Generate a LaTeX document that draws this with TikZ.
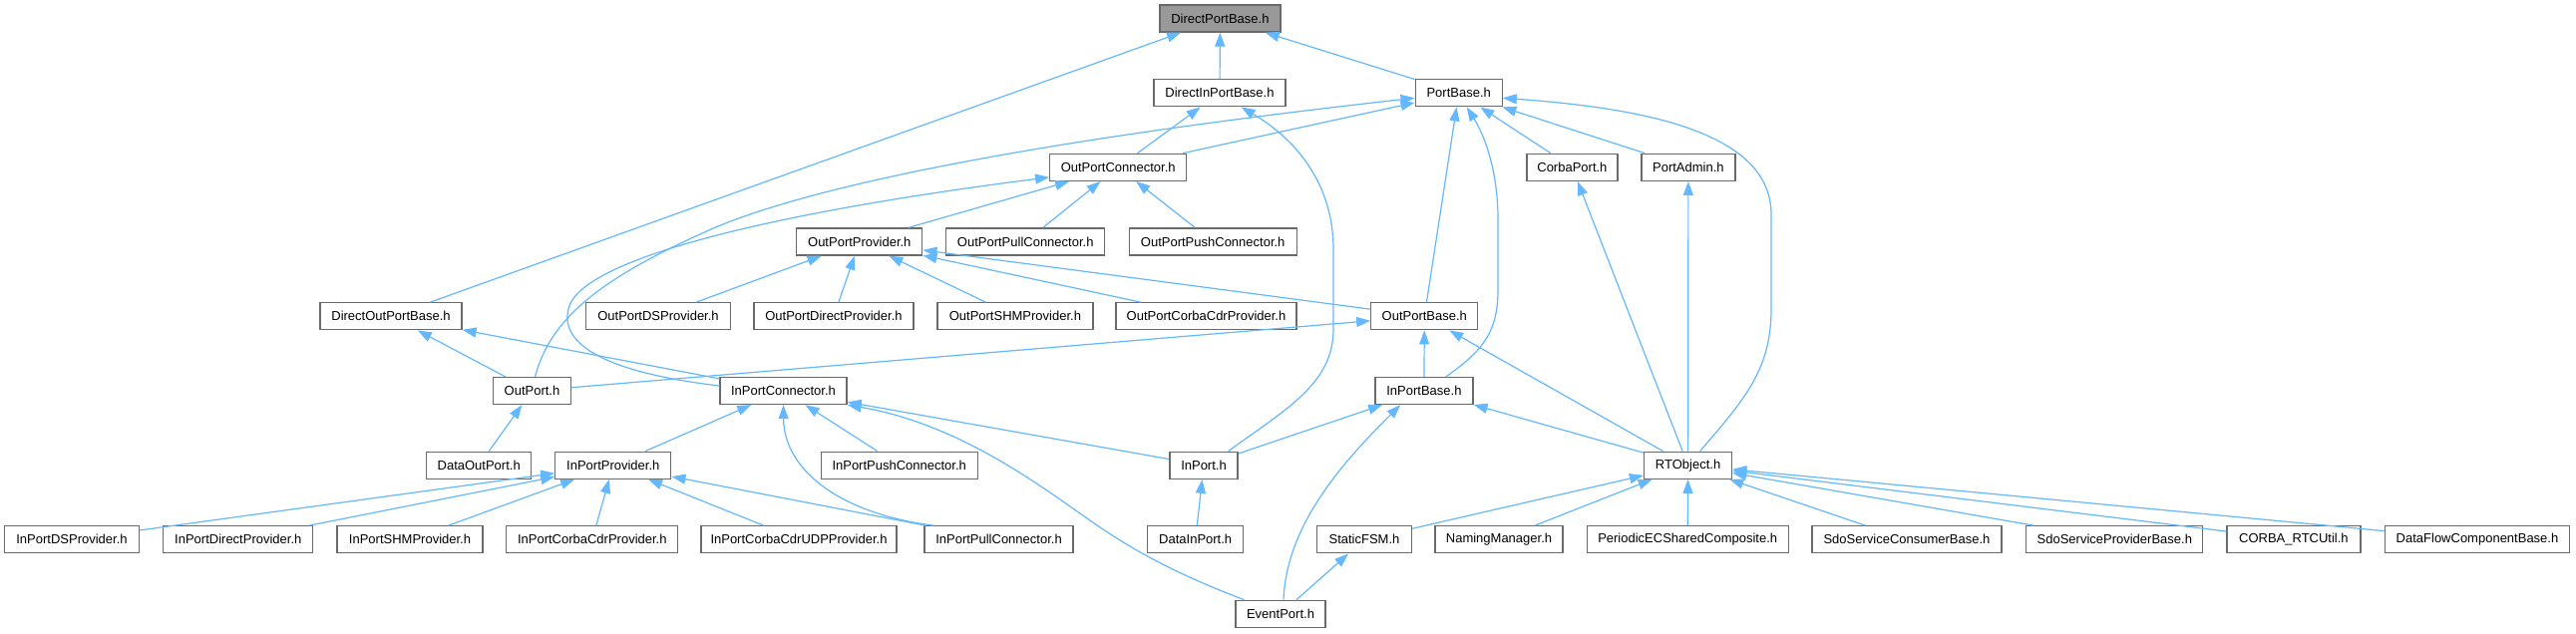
\documentclass[tikz,border=0pt]{standalone}
\usepackage{fontspec}
\setmainfont{Liberation Sans}
\usetikzlibrary{arrows.meta,calc}
\definecolor{edgec}{HTML}{63B8FF}
\definecolor{bordc}{HTML}{6A6A6A}
\definecolor{rootc}{HTML}{999999}
\begin{document}
\begin{tikzpicture}[x=1pt,y=-1pt,
  box/.style={draw=bordc, line width=1.3pt, fill=white, minimum height=27pt, inner sep=0pt, font=\fontsize{13}{15}\selectfont, text=black},
  rootbox/.style={box, fill=rootc},
  dep/.style={draw=edgec, line width=1.2pt, -{Triangle[length=14pt,width=10pt]}}]
\fill[white] (0,0) rectangle (2583,635);
\useasboundingbox (0,0) rectangle (2583,635);
% row 1
\node[rootbox, minimum width=121pt] (dpb) at (1223.4,18.5) {DirectPortBase.h};
% row 2
\node[box, minimum width=132pt] (dipb) at (1223,93.3) {DirectInPortBase.h};
\node[box, minimum width=87pt] (pb) at (1462.7,93.3) {PortBase.h};
% row 3
\node[box, minimum width=137pt] (opc) at (1121.2,167.8) {OutPortConnector.h};
\node[box, minimum width=91pt] (cp) at (1576.4,167.8) {CorbaPort.h};
\node[box, minimum width=94pt] (pa) at (1692.9,167.8) {PortAdmin.h};
% row 4
\node[box, minimum width=126pt] (opp) at (861.8,242.5) {OutPortProvider.h};
\node[box, minimum width=159pt] (oppull) at (1028.2,242.5) {OutPortPullConnector.h};
\node[box, minimum width=168pt] (oppush) at (1216.2,242.5) {OutPortPushConnector.h};
% row 5
\node[box, minimum width=142pt] (dopb) at (392,317.3) {DirectOutPortBase.h};
\node[box, minimum width=145pt] (opds) at (660,317.3) {OutPortDSProvider.h};
\node[box, minimum width=160pt] (opdir) at (836,317.3) {OutPortDirectProvider.h};
\node[box, minimum width=156pt] (opshm) at (1017.9,317.3) {OutPortSHMProvider.h};
\node[box, minimum width=181pt] (opcorba) at (1209.5,317.3) {OutPortCorbaCdrProvider.h};
\node[box, minimum width=107pt] (opb) at (1428.3,317.3) {OutPortBase.h};
% row 6
\node[box, minimum width=77.5pt] (op) at (533.5,392) {OutPort.h};
\node[box, minimum width=127pt] (ipc) at (785.5,392) {InPortConnector.h};
\node[box, minimum width=98pt] (ipb) at (1427.9,392) {InPortBase.h};
% row 7
\node[box, minimum width=105pt] (dop) at (480.2,466.7) {DataOutPort.h};
\node[box, minimum width=116pt] (ipp) at (614.8,466.7) {InPortProvider.h};
\node[box, minimum width=157pt] (ippush) at (901.7,466.7) {InPortPushConnector.h};
\node[box, minimum width=68pt] (ip) at (1207,466.7) {InPort.h};
\node[box, minimum width=88pt] (rto) at (1692.6,466.7) {RTObject.h};
% row 8
\node[box, minimum width=135pt] (ipds) at (72,541.3) {InPortDSProvider.h};
\node[box, minimum width=150pt] (ipdir) at (238.8,541.3) {InPortDirectProvider.h};
\node[box, minimum width=146pt] (ipshm) at (411,541.3) {InPortSHMProvider.h};
\node[box, minimum width=172pt] (ipcorba) at (593.8,541.3) {InPortCorbaCdrProvider.h};
\node[box, minimum width=196pt] (ipudp) at (801,541.3) {InPortCorbaCdrUDPProvider.h};
\node[box, minimum width=149pt] (ippull) at (1001.5,541.3) {InPortPullConnector.h};
\node[box, minimum width=96pt] (dip) at (1198.7,541.3) {DataInPort.h};
\node[box, minimum width=95pt] (sfsm) at (1368,541.3) {StaticFSM.h};
\node[box, minimum width=128pt] (nm) at (1503,541.3) {NamingManager.h};
\node[box, minimum width=202pt] (pec) at (1692.2,541.3) {PeriodicECSharedComposite.h};
\node[box, minimum width=190pt] (sdoc) at (1912,541.3) {SdoServiceConsumerBase.h};
\node[box, minimum width=177pt] (sdop) at (2120.3,541.3) {SdoServiceProviderBase.h};
\node[box, minimum width=134pt] (corbau) at (2299.9,541.3) {CORBA\_RTCUtil.h};
\node[box, minimum width=185pt] (dfcb) at (2484,541.3) {DataFlowComponentBase.h};
% row 9
\node[box, minimum width=90pt] (ep) at (1284,615.8) {EventPort.h};

% edges: child -> parent (arrow at parent)
\draw[dep] (dipb) -- (dpb);
\draw[dep] (pb) -- (dpb);
\draw[dep] (dopb) -- (dpb);
\draw[dep] (opc) -- (dipb);
\draw[dep] ($(ip.north east)+(-10,0)$) .. controls (1290,410) and (1337,385) .. (1337,330) -- (1337,250) .. controls (1337,185) and (1300,140) .. ($(dipb.south east)+(-45,0)$);
\draw[dep] (opc) -- (pb);
\draw[dep] ($(op.north)+(3,0)$) .. controls (552,320) and (600,280) .. (713,230) .. controls (800,192) and (1000,145) .. ($(pb.west)+(0,5)$);
\draw[dep] (opb) -- (pb);
\draw[dep] ($(ipb.north)+(22,0)$) .. controls (1490,350) and (1502,330) .. (1502,290) -- (1502,220) .. controls (1502,170) and (1488,135) .. ($(pb.south)+(8,0)$);
\draw[dep] (cp) -- (pb);
\draw[dep] (pa) -- (pb);
\draw[dep] ($(rto.north)+(12,0)$) .. controls (1750,400) and (1776,370) .. (1776,310) -- (1776,215) .. controls (1776,130) and (1640,108) .. ($(pb.east)+(0,5)$);
\draw[dep] (opp) -- (opc);
\draw[dep] (oppull) -- (opc);
\draw[dep] (oppush) -- (opc);
\draw[dep] ($(ipc.west)+(0,-5)$) .. controls (620,375) and (560,350) .. (570,310) .. controls (580,262) and (760,215) .. ($(opc.west)+(0,10)$);
\draw[dep] (opds) -- (opp);
\draw[dep] (opdir) -- (opp);
\draw[dep] (opshm) -- (opp);
\draw[dep] (opcorba) -- (opp);
\draw[dep] (opb) -- (opp);
\draw[dep] (op) -- (dopb);
\draw[dep] (ipc) -- (dopb);
\draw[dep] (op) -- (opb);
\draw[dep] (ipb) -- (opb);
\draw[dep] (rto) -- (opb);
\draw[dep] (dop) -- (op);
\draw[dep] (ipp) -- (ipc);
\draw[dep] (ippush) -- (ipc);
\draw[dep] ($(ippull.north west)+(10,0)$) .. controls (840,515) and (786,470) .. (ipc.south);
\draw[dep] (ip) -- (ipc);
\draw[dep] ($(ep.north west)+(9,0)$) .. controls (1170,572) and (1130,548) .. (1090,520) .. controls (1040,485) and (960,425) .. (ipc.south east);
\draw[dep] (ipds) -- (ipp);
\draw[dep] (ipdir) -- (ipp);
\draw[dep] (ipshm) -- (ipp);
\draw[dep] (ipcorba) -- (ipp);
\draw[dep] (ipudp) -- (ipp);
\draw[dep] (ippull) -- (ipp);
\draw[dep] (ip) -- (ipb);
\draw[dep] (rto) -- (ipb);
\draw[dep] ($(ep.north)+(3,0)$) .. controls (1290,530) and (1340,470) .. ($(ipb.south west)+(26,0)$);
\draw[dep] (dip) -- (ip);
\draw[dep] (rto) -- (cp);
\draw[dep] (rto) -- (pa);
\draw[dep] (sfsm) -- (rto);
\draw[dep] (nm) -- (rto);
\draw[dep] (pec) -- (rto);
\draw[dep] (sdoc) -- (rto);
\draw[dep] (sdop) -- (rto);
\draw[dep] (corbau) -- (rto);
\draw[dep] (dfcb) -- (rto);
\draw[dep] (ep) -- (sfsm);
\end{tikzpicture}
\end{document}
